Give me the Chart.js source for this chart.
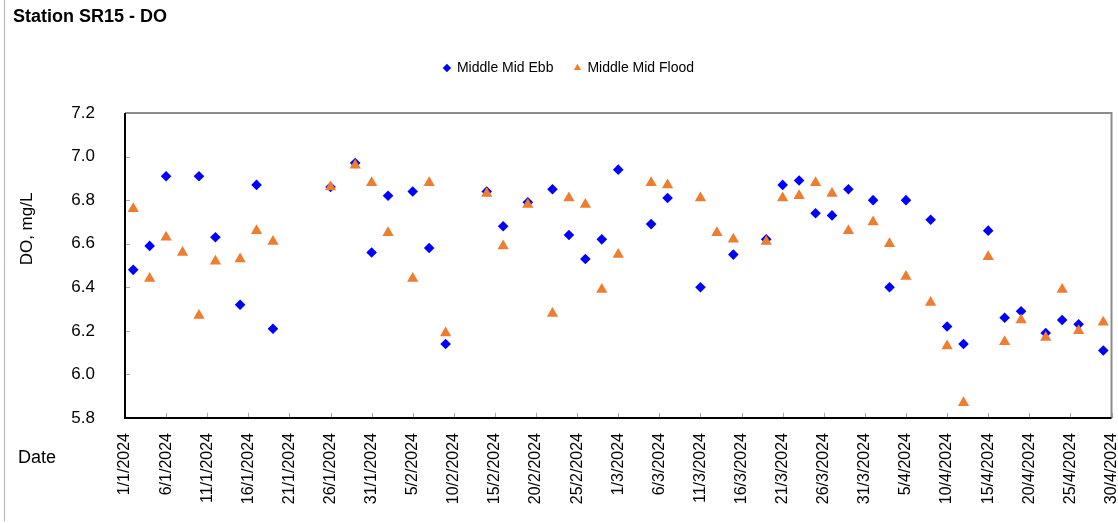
<!DOCTYPE html>
<html>
<head>
<meta charset="utf-8">
<title>Station SR15 - DO</title>
<script src="https://cdn.jsdelivr.net/npm/chart.js@4.4.1/dist/chart.umd.min.js"></script>
<style>
  html, body { margin: 0; padding: 0; background: #fff; overflow: hidden; }
  #wrap { position: relative; width: 1118px; height: 523px; }
</style>
</head>
<body>
<div id="wrap"><canvas id="chart"></canvas></div>
<script>
// Sampling dates (d/m/yyyy) and DO readings, mg/L
const ebbDates = ['2/1/2024', '4/1/2024', '6/1/2024', '10/1/2024', '12/1/2024', '15/1/2024', '17/1/2024', '19/1/2024',
    '26/1/2024', '29/1/2024', '31/1/2024', '2/2/2024', '5/2/2024', '7/2/2024', '9/2/2024', '14/2/2024', '16/2/2024',
    '19/2/2024', '22/2/2024', '24/2/2024', '26/2/2024', '28/2/2024', '1/3/2024', '5/3/2024', '7/3/2024', '11/3/2024',
    '15/3/2024', '19/3/2024', '21/3/2024', '23/3/2024', '25/3/2024', '27/3/2024', '29/3/2024', '1/4/2024', '3/4/2024',
    '5/4/2024', '8/4/2024', '10/4/2024', '12/4/2024', '15/4/2024', '17/4/2024', '19/4/2024', '22/4/2024', '24/4/2024',
    '26/4/2024', '29/4/2024'];
const ebbValues = [6.48, 6.59, 6.91, 6.91, 6.63, 6.32, 6.87, 6.21,
    6.86, 6.97, 6.56, 6.82, 6.84, 6.58, 6.14, 6.84, 6.68,
    6.79, 6.85, 6.64, 6.53, 6.62, 6.94, 6.69, 6.81, 6.40,
    6.55, 6.62, 6.87, 6.89, 6.74, 6.73, 6.85, 6.80, 6.40,
    6.80, 6.71, 6.22, 6.14, 6.66, 6.26, 6.29, 6.19, 6.25,
    6.23, 6.11];

const floodDates = ['2/1/2024', '4/1/2024', '6/1/2024', '8/1/2024', '10/1/2024', '12/1/2024', '15/1/2024', '17/1/2024',
    '19/1/2024', '26/1/2024', '29/1/2024', '31/1/2024', '2/2/2024', '5/2/2024', '7/2/2024', '9/2/2024', '14/2/2024',
    '16/2/2024', '19/2/2024', '22/2/2024', '24/2/2024', '26/2/2024', '28/2/2024', '1/3/2024', '5/3/2024', '7/3/2024',
    '11/3/2024', '13/3/2024', '15/3/2024', '19/3/2024', '21/3/2024', '23/3/2024', '25/3/2024', '27/3/2024', '29/3/2024',
    '1/4/2024', '3/4/2024', '5/4/2024', '8/4/2024', '10/4/2024', '12/4/2024', '15/4/2024', '17/4/2024', '19/4/2024',
    '22/4/2024', '24/4/2024', '26/4/2024', '29/4/2024'];
const floodValues = [6.76, 6.44, 6.63, 6.56, 6.27, 6.52, 6.53, 6.66,
    6.61, 6.86, 6.96, 6.88, 6.65, 6.44, 6.88, 6.19, 6.83,
    6.59, 6.78, 6.28, 6.81, 6.78, 6.39, 6.55, 6.88, 6.87,
    6.81, 6.65, 6.62, 6.61, 6.81, 6.82, 6.88, 6.83, 6.66,
    6.70, 6.60, 6.45, 6.33, 6.13, 5.87, 6.54, 6.15, 6.25,
    6.17, 6.39, 6.20, 6.24];

const xTickLabels = ['1/1/2024', '6/1/2024', '11/1/2024', '16/1/2024', '21/1/2024', '26/1/2024', '31/1/2024',
    '5/2/2024', '10/2/2024', '15/2/2024', '20/2/2024', '25/2/2024', '1/3/2024', '6/3/2024', '11/3/2024',
    '16/3/2024', '21/3/2024', '26/3/2024', '31/3/2024', '5/4/2024', '10/4/2024', '15/4/2024', '20/4/2024',
    '25/4/2024', '30/4/2024'];
const xTickStep = 5;   // days between x ticks
const yMin = 5.8;
const yMax = 7.2;
const yStep = 0.2;

const FONT = "'Liberation Sans', Arial, sans-serif";
Chart.defaults.font.family = FONT;
Chart.defaults.color = '#000';

// days since the first tick date
function dayIndex(str) {
    const [d, m, y] = str.split('/').map(Number);
    const [d0, m0, y0] = xTickLabels[0].split('/').map(Number);
    return Math.round((Date.UTC(y, m - 1, d) - Date.UTC(y0, m0 - 1, d0)) / 86400000);
}

function toPoints(dates, values) {
    return dates.map((s, i) => ({ x: dayIndex(s), y: values[i] }));
}

// plot frame, inner tick marks and the axis titles
const framePlugin = {
    id: 'frame',
    beforeDatasetsDraw(chart) {
        const { ctx, chartArea: a, scales } = chart;
        ctx.save();

        // outer chart border (left side visible)
        ctx.strokeStyle = '#b4b4b4';
        ctx.lineWidth = 1;
        ctx.beginPath();
        ctx.moveTo(4.5, 0);
        ctx.lineTo(4.5, chart.height - 2);
        ctx.stroke();

        // small tick marks pointing into the plot
        ctx.strokeStyle = '#a6a6a6';
        ctx.lineWidth = 1;
        scales.y.ticks.forEach(t => {
            const y = Math.round(scales.y.getPixelForValue(t.value)) + 0.5;
            ctx.beginPath();
            ctx.moveTo(a.left, y);
            ctx.lineTo(a.left + 5, y);
            ctx.stroke();
        });
        scales.x.ticks.forEach(t => {
            const x = Math.round(scales.x.getPixelForValue(t.value)) + 0.5;
            ctx.beginPath();
            ctx.moveTo(x, a.bottom);
            ctx.lineTo(x, a.bottom - 5);
            ctx.stroke();
        });

        // plot area border
        ctx.strokeStyle = '#8c8c8c';
        ctx.lineWidth = 2;
        ctx.beginPath();
        ctx.moveTo(a.left, a.top);
        ctx.lineTo(a.right, a.top);
        ctx.lineTo(a.right, a.bottom);
        ctx.stroke();
        ctx.strokeStyle = '#000';
        ctx.beginPath();
        ctx.moveTo(a.left, a.top);
        ctx.lineTo(a.left, a.bottom);
        ctx.lineTo(a.right, a.bottom);
        ctx.stroke();

        // axis titles
        ctx.fillStyle = '#000';
        ctx.textBaseline = 'middle';
        ctx.textAlign = 'left';
        ctx.font = '18px ' + FONT;
        ctx.fillText('Date', 18, 458);

        ctx.translate(27, 229);
        ctx.rotate(-Math.PI / 2);
        ctx.textAlign = 'center';
        ctx.font = '17px ' + FONT;
        ctx.fillText('DO, mg/L', 0, 0);
        ctx.restore();
    }
};

new Chart(document.getElementById('chart'), {
    type: 'scatter',
    data: {
        datasets: [
            {
                label: 'Middle Mid Ebb',
                data: toPoints(ebbDates, ebbValues),
                pointStyle: 'rectRot',
                pointRadius: 5.3,
                backgroundColor: '#0000FF',
                borderColor: '#0000FF',
                borderWidth: 0,
                order: 2,
                xAxisID: 'x',
                yAxisID: 'y'
            },
            {
                label: 'Middle Mid Flood',
                data: toPoints(floodDates, floodValues),
                pointStyle: 'triangle',
                pointRadius: 6.5,
                backgroundColor: '#ED7D31',
                borderColor: '#ED7D31',
                borderWidth: 0,
                order: 1,
                xAxisID: 'x',
                yAxisID: 'y'
            }
        ]
    },
    options: {
        responsive: true,
        maintainAspectRatio: false,
        animation: false,
        events: [],
        layout: {
            padding: { left: 13, right: -7, top: 0, bottom: 0 }
        },
        plugins: {
            title: {
                display: true,
                text: 'Station SR15 - DO',
                align: 'start',
                color: '#000',
                font: { size: 18, weight: 'bold', lineHeight: 1 },
                padding: { top: 8, bottom: 14 }
            },
            legend: {
                display: true,
                position: 'top',
                labels: {
                    usePointStyle: true,
                    boxWidth: 6,
                    boxHeight: 6,
                    padding: 21,
                    color: '#000',
                    font: { size: 14 },
                    sort: (a, b) => a.datasetIndex - b.datasetIndex
                }
            },
            tooltip: { enabled: false }
        },
        scales: {
            x: {
                type: 'linear',
                position: 'bottom',
                min: 0,
                max: (xTickLabels.length - 1) * xTickStep,
                grid: { display: false },
                border: { display: false },
                ticks: {
                    stepSize: xTickStep,
                    autoSkip: false,
                    minRotation: 90,
                    maxRotation: 90,
                    padding: 7,
                    font: { size: 16 },
                    color: '#000',
                    callback: v => xTickLabels[Math.round(v / xTickStep)]
                },
                afterFit: s => {
                    s.height = 105;
                    s.paddingLeft = 0;
                    s.paddingRight = 3.5;
                }
            },
            // empty band between the legend and the plot
            xTop: {
                type: 'linear',
                position: 'top',
                display: true,
                grid: { display: false },
                border: { display: false },
                ticks: { display: false },
                afterFit: s => {
                    s.height = 28;
                    s.paddingLeft = 0;
                    s.paddingRight = 0;
                }
            },
            y: {
                type: 'linear',
                position: 'left',
                min: yMin,
                max: yMax,
                grid: { display: false },
                border: { display: false },
                ticks: {
                    stepSize: yStep,
                    padding: 22,
                    font: { size: 17 },
                    color: '#000',
                    callback: v => v.toFixed(1)
                },
                afterFit: s => {
                    s.width = 112;
                }
            }
        }
    },
    plugins: [framePlugin]
});
</script>
</body>
</html>
